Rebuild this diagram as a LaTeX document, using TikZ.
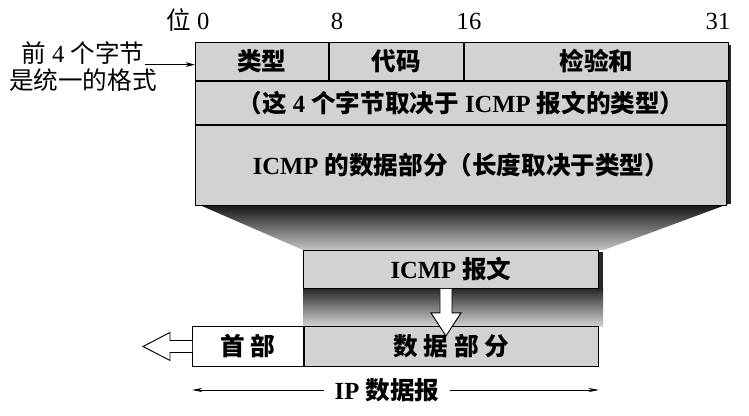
\documentclass[tikz,border=0pt]{standalone}
\usepackage{fontspec}
\setmainfont{Liberation Serif}
\newfontfamily\cjk{Noto Sans CJK SC}
\usetikzlibrary{arrows.meta,positioning,calc}

\newcommand{\zh}[1]{{\cjk #1}}

\begin{document}
\begin{tikzpicture}[
        x=0.03cm, y=-0.03cm,
        every node/.style={font=\fontsize{21}{24}\selectfont\bfseries, inner sep=0pt},
        field/.style={draw, thick, fill=gray!35, anchor=north west, minimum height=1.14cm},
        plain field/.style={field, fill=white},
        bit/.style={anchor=base, font=\fontsize{21}{24}\selectfont},
        note/.style={font=\fontsize{21}{24}\selectfont},
        dim/.style={-{Stealth[length=9pt, width=3.5pt]}, semithick}
    ]
        \useasboundingbox (0,0) rectangle (749,415);

        % shadows
        \shade[top color=black!95, bottom color=gray!45] (195,203) -- (731,203) -- (604,250) -- (303,250) -- cycle;
        \fill[black!85] (726,45) rectangle (731,204);
        \fill[black!85] (598,252) rectangle (603,288);
        \shade[top color=black!85, bottom color=gray!35] (303,288) rectangle (603,326);

        % ICMP message
        \node[field, minimum width=3.99cm] (type) at (195,42) {\zh{类型}};
        \node[field, minimum width=4.02cm] (code) at (type.north east) {\zh{代码}};
        \node[field, minimum width=7.92cm] (sum) at (code.north east) {\zh{检验和}};
        \node[field, minimum width=15.93cm, minimum height=1.29cm] (rest) at (type.south west)
            {\zh{（这} 4 \zh{个字节取决于} ICMP \zh{报文的类型）}};
        \node[field, minimum width=15.93cm, minimum height=2.4cm] (data) at (rest.south west)
            {ICMP \zh{的数据部分（长度取决于类型）}};

        % bit positions
        \node[bit] (b0) at (188,29) {\zh{位} 0};
        \node[bit] (b8) at (337,29) {8};
        \node[bit] (b16) at (469,29) {16};
        \node[bit] (b31) at (718,29) {31};

        % note on the left
        \node[note] (lead1) at (83,53) {\zh{前} 4 \zh{个字节}};
        \node[note, below=0.12cm of lead1] (lead2) {\zh{是统一的格式}};
        \draw[-{Stealth[length=8pt, width=4pt]}, semithick] (lead1.south east) -- (lead1.south east -| type.west);

        % ICMP in IP datagram
        \node[field, minimum width=8.85cm] (icmp) at (303,250) {ICMP \zh{报文}};
        \node[plain field, minimum width=3.33cm, minimum height=1.2cm] (head) at (192,326) {\zh{首\ 部}};
        \node[field, minimum width=8.82cm, minimum height=1.2cm] (body) at (head.north east) {\zh{数\ 据\ 部\ 分}};

        \draw[fill=white, thick] ($(icmp.south)+(-11,0)$) -- ++(0,24) -- ++(-9,0) -- ++(15,23) -- ++(15,-23) -- ++(-9,0) -- ++(0,-24);
        \draw[fill=white, thick] ($(head.west)+(0,-6)$) -- ++(-22,0) -- ++(0,-8) -- ++(-27,14) -- ++(27,14) -- ++(0,-8) -- ++(22,0);

        % datagram length
        \node[inner xsep=0.3cm] (ipd) at (387,390) {IP \zh{数据报}};
        \coordinate (dl) at (head.south west |- ipd);
        \coordinate (dr) at (body.south east |- ipd);
        \draw[dim] (ipd.west) -- (dl);
        \draw[dim] (ipd.east) -- (dr);
    \end{tikzpicture}
\end{document}
